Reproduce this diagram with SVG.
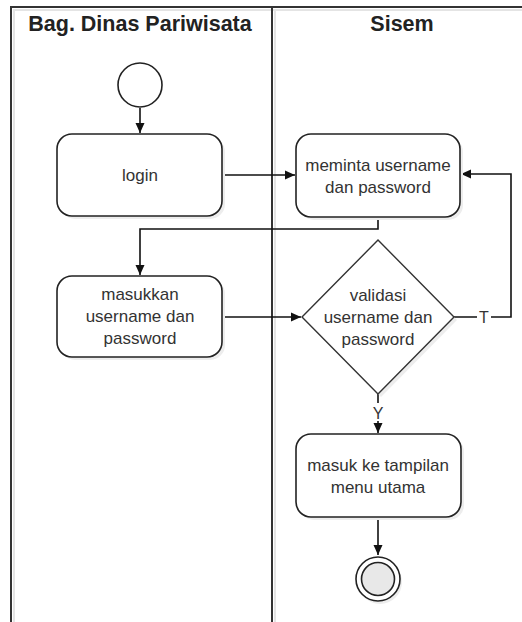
<svg xmlns="http://www.w3.org/2000/svg" width="522" height="622" viewBox="0 0 522 622">
  <style>
    .lane { fill: none; stroke: #333; stroke-width: 2; }
    .lane-shadow { fill: none; stroke: #e4e4e4; stroke-width: 2; }
    .head { font-family: "Liberation Sans", Arial, sans-serif; font-weight: bold; font-size: 21.5px; fill: #222; text-anchor: middle; }
    .act { fill: #fff; stroke: #222; stroke-width: 1.6; }
    .shadow { fill: #ededed; stroke: none; }
    .lbl { font-family: "Liberation Sans", Arial, sans-serif; font-size: 17px; fill: #333; text-anchor: middle; }
    .edge { fill: none; stroke: #111; stroke-width: 1.6; }
    .guard { font-family: "Liberation Sans", Arial, sans-serif; font-size: 16px; fill: #333; text-anchor: middle; }
  </style>
  <defs>
    <marker id="arrow" viewBox="0 0 10 10" refX="10" refY="5" markerWidth="10" markerHeight="10" markerUnits="userSpaceOnUse" orient="auto">
      <path d="M0,0.5 L10,5 L0,9.5 z" fill="#111"/>
    </marker>
  </defs>

  <rect width="522" height="622" fill="#fff"/>

  <!-- swimlanes -->
  <g id="lanes">
    <path class="lane-shadow" d="M13,10 H522 M14,10 V622 M275,10 V622"/>
    <path class="lane" d="M11,622 V7 H522 M272,7 V622"/>
    <text class="head" x="140" y="31">Bag. Dinas Pariwisata</text>
    <text class="head" x="402" y="31">Sisem</text>
  </g>

  <!-- connectors -->
  <g id="connectors">
    <path class="edge" d="M140,108 V133" marker-end="url(#arrow)"/>
    <path class="edge" d="M222,175 H295" marker-end="url(#arrow)"/>
    <path class="edge" d="M378,217 V229 H140 V275" marker-end="url(#arrow)"/>
    <path class="edge" d="M222,317 H301" marker-end="url(#arrow)"/>
    <path class="edge" d="M454,317 H511 V174 H461" marker-end="url(#arrow)"/>
    <rect x="477" y="308" width="14" height="18" fill="#fff"/>
    <text class="guard" x="484" y="323">T</text>
    <path class="edge" d="M378,394 V433" marker-end="url(#arrow)"/>
    <rect x="370" y="403" width="16" height="18" fill="#fff"/>
    <text class="guard" x="378" y="419">Y</text>
    <path class="edge" d="M378,517 V555" marker-end="url(#arrow)"/>
  </g>

  <!-- start -->
  <g id="start">
    <circle cx="140" cy="85" r="22" fill="#fff" stroke="#222" stroke-width="1.6"/>
  </g>

  <g id="login">
    <rect class="shadow" x="60" y="137" width="165" height="82" rx="15"/>
    <rect class="act" x="57" y="134" width="165" height="82" rx="15"/>
    <text class="lbl" x="140" y="181">login</text>
  </g>

  <g id="meminta">
    <rect class="shadow" x="299" y="137" width="164" height="83" rx="15"/>
    <rect class="act" x="296" y="134" width="164" height="83" rx="15"/>
    <text class="lbl" x="378" y="171">meminta username</text>
    <text class="lbl" x="378" y="193">dan password</text>
  </g>

  <g id="masukkan">
    <rect class="shadow" x="60" y="279" width="165" height="81" rx="15"/>
    <rect class="act" x="57" y="276" width="165" height="81" rx="15"/>
    <text class="lbl" x="140" y="300">masukkan</text>
    <text class="lbl" x="140" y="322">username dan</text>
    <text class="lbl" x="140" y="344">password</text>
  </g>

  <g id="validasi">
    <polygon points="381,243 457,320 381,397 305,320" fill="#ededed"/>
    <polygon points="378,240 454,317 378,394 302,317" fill="#fff" stroke="#333" stroke-width="1.4"/>
    <text class="lbl" x="378" y="301">validasi</text>
    <text class="lbl" x="378" y="323">username dan</text>
    <text class="lbl" x="378" y="345">password</text>
  </g>

  <g id="masuk">
    <rect class="shadow" x="299" y="437" width="165" height="83" rx="15"/>
    <rect class="act" x="296" y="434" width="165" height="83" rx="15"/>
    <text class="lbl" x="378" y="471">masuk ke tampilan</text>
    <text class="lbl" x="378" y="493">menu utama</text>
  </g>

  <g id="end">
    <circle cx="380" cy="582" r="22" fill="#ededed"/>
    <circle cx="378" cy="579" r="22" fill="#fff" stroke="#222" stroke-width="1.6"/>
    <circle cx="378" cy="579" r="16.5" fill="#e8e8e8" stroke="#222" stroke-width="1.6"/>
  </g>
</svg>
